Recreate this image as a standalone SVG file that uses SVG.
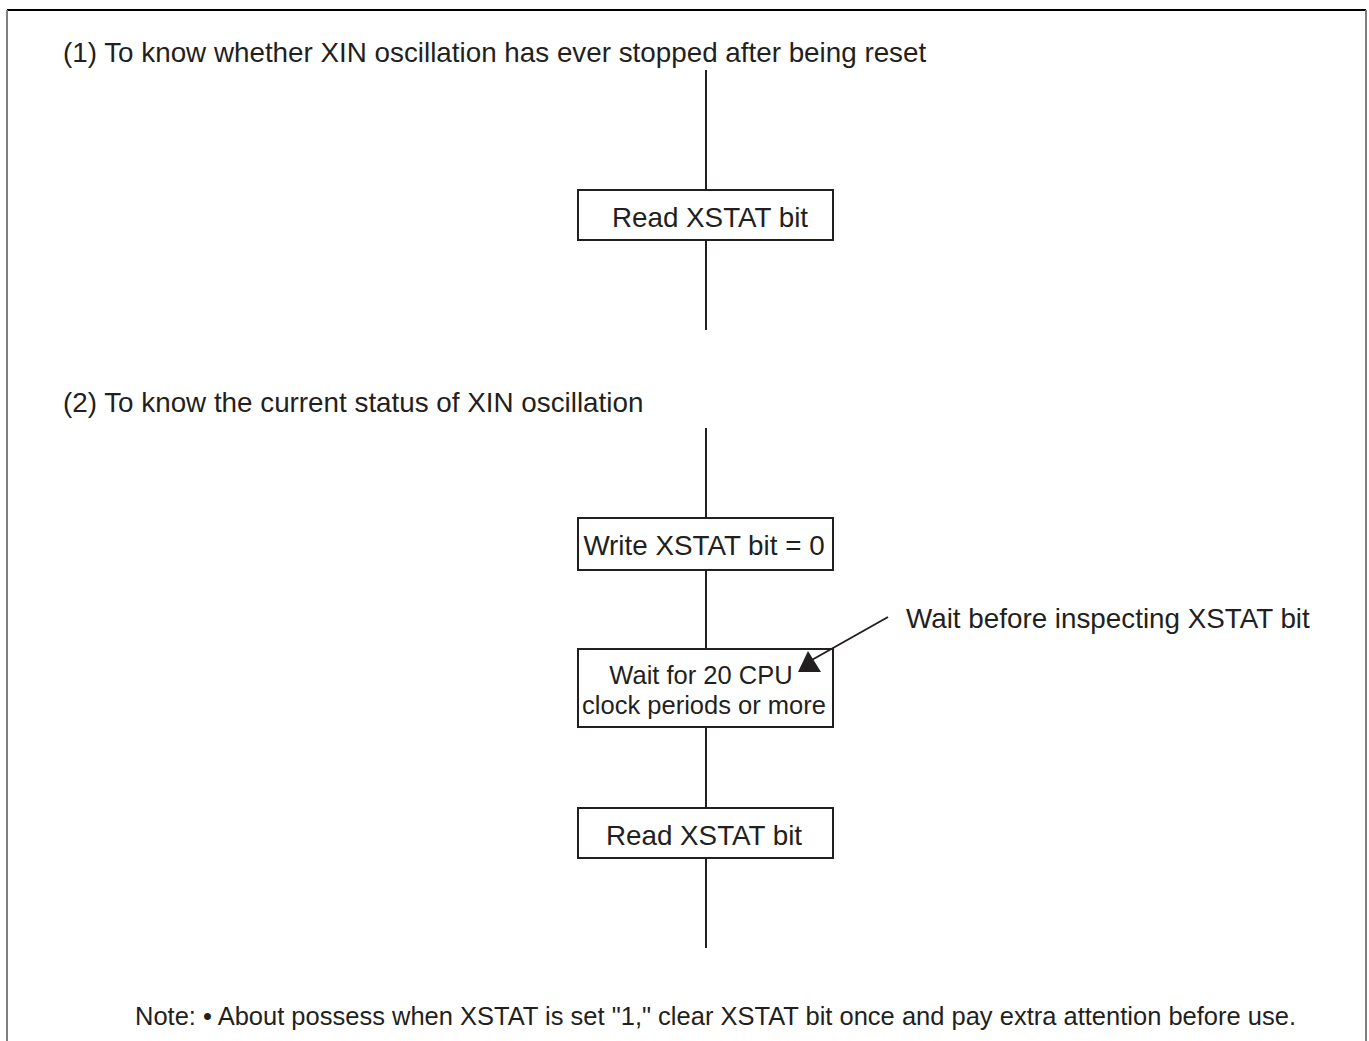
<svg xmlns="http://www.w3.org/2000/svg" width="1369" height="1041" viewBox="0 0 1369 1041">
<style>
text{font-family:"Liberation Sans",Arial,sans-serif;fill:#231f20}
.h{font-size:27.8px}
.b{font-size:27.8px;text-anchor:middle}
.s{font-size:25.5px;text-anchor:middle}
.box{fill:#fff;stroke:#231f20;stroke-width:2}
.ln{stroke:#231f20;stroke-width:2;fill:none}
</style>
<rect width="1369" height="1041" fill="#fff"/>
<g id="frame">
<line x1="7" y1="10" x2="1366" y2="10" stroke="#000" stroke-width="2"/>
<line x1="7" y1="10" x2="7" y2="1041" stroke="#808080" stroke-width="2"/>
<line x1="1366" y1="10" x2="1366" y2="1041" stroke="#808080" stroke-width="2"/>
</g>
<text class="h" x="63" y="62">(1) To know whether XIN oscillation has ever stopped after being reset</text>
<text class="h" x="63" y="412">(2) To know the current status of XIN oscillation</text>
<g id="connectors">
<line class="ln" x1="706" y1="70" x2="706" y2="330"/>
<line class="ln" x1="706" y1="428" x2="706" y2="948"/>
</g>
<g id="n1"><rect class="box" x="578" y="190" width="255" height="50"/><text class="b" x="710" y="227">Read XSTAT bit</text></g>
<g id="n2"><rect class="box" x="578" y="518" width="255" height="52"/><text class="b" x="704" y="555">Write XSTAT bit = 0</text></g>
<g id="n3"><rect class="box" x="578" y="649" width="255" height="78"/><text class="s" x="701" y="684">Wait for 20 CPU</text><text class="s" x="704" y="714">clock periods or more</text></g>
<g id="n4"><rect class="box" x="578" y="808" width="255" height="50"/><text class="b" x="704" y="845">Read XSTAT bit</text></g>
<g id="callout">
<line class="ln" x1="888" y1="617" x2="810" y2="661"/>
<polygon points="808,651 798,672 821,672" fill="#231f20"/>
<text class="h" x="906" y="628">Wait before inspecting XSTAT bit</text>
</g>
<text x="135" y="1025" style="font-size:25px" textLength="1161" lengthAdjust="spacingAndGlyphs">Note: • About possess when XSTAT is set "1," clear XSTAT bit once and pay extra attention before use.</text>
</svg>
